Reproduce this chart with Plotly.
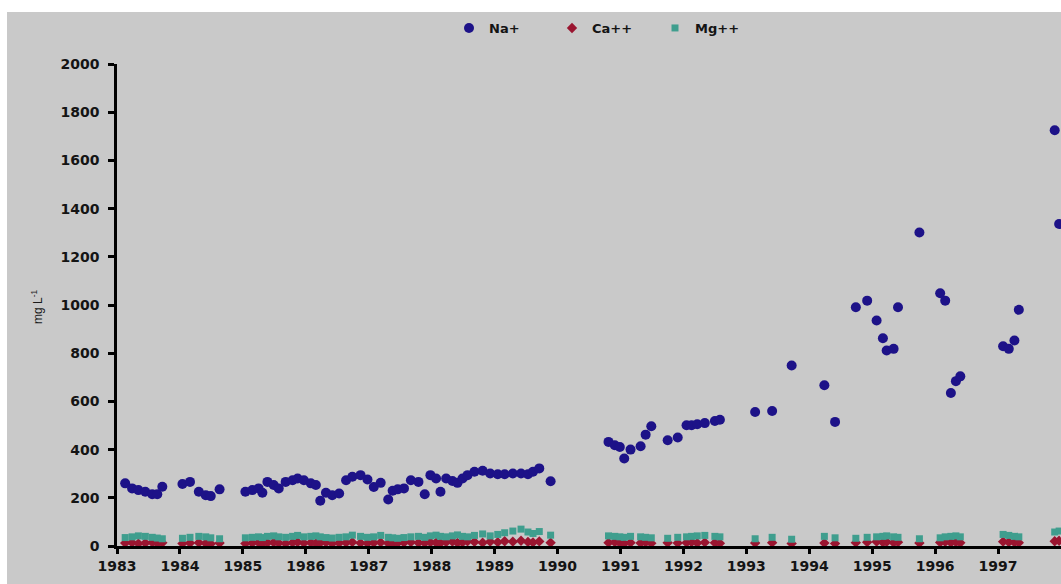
import plotly.graph_objects as go

# ---- data (decimal years, mg/L) ----
na_dates = [
    1983.13, 1983.24, 1983.34, 1983.45, 1983.56, 1983.64, 1983.72,
    1984.04, 1984.16, 1984.30, 1984.41, 1984.49, 1984.63,
    1985.04, 1985.15, 1985.25, 1985.31, 1985.39, 1985.49, 1985.57, 1985.68, 1985.79, 1985.87, 1985.97,
    1986.08, 1986.16, 1986.23, 1986.32, 1986.42, 1986.53, 1986.64, 1986.74, 1986.87, 1986.98,
    1987.08, 1987.19, 1987.31, 1987.38, 1987.46, 1987.56, 1987.67, 1987.79, 1987.89, 1987.98,
    1988.07, 1988.14, 1988.23, 1988.33, 1988.41, 1988.49, 1988.57, 1988.68, 1988.81, 1988.93,
    1989.05, 1989.16, 1989.29, 1989.42, 1989.53, 1989.61, 1989.71, 1989.89,
    1990.81, 1990.91, 1990.99, 1991.06, 1991.16, 1991.32, 1991.40, 1991.49, 1991.75, 1991.91,
    1992.05, 1992.13, 1992.22, 1992.34, 1992.50, 1992.58,
    1993.14, 1993.41, 1993.72, 1994.24, 1994.41, 1994.74, 1994.92,
    1995.07, 1995.17, 1995.23, 1995.34, 1995.41, 1995.75,
    1996.08, 1996.16, 1996.25, 1996.33, 1996.40,
    1997.08, 1997.17, 1997.26, 1997.33, 1997.90, 1997.97,
]
na_values = [
    260, 239, 232, 225, 215, 215, 246,
    257, 266, 225, 211, 207, 235,
    225, 232, 239, 221, 266, 253, 239, 266, 273, 280, 273,
    260, 253, 188, 221, 211, 218, 273, 287, 294, 276,
    245, 262, 193, 229, 235, 239, 273, 266, 215, 294,
    280, 225, 280, 270, 262, 280, 294, 308, 312, 301,
    298, 298, 301, 301, 298, 308, 322, 269,
    432, 418, 411, 363, 400, 414, 462, 497, 439, 450,
    501, 501, 505, 510, 519, 524,
    556, 560, 749, 667, 515, 991, 1018,
    936, 862, 811, 818, 991, 1301,
    1049, 1018, 635, 684, 704,
    829, 818, 853, 980, 1725, 1336,
]
ca_dates = na_dates
ca_values = [
    12, 14, 10, 12, 15, 11, 13,
    10, 12, 14, 11, 9, 12,
    10, 12, 14, 11, 13, 15, 12, 10, 14, 16, 12,
    14, 11, 13, 15, 10, 12, 14, 16, 12, 11,
    13, 15, 11, 10, 12, 14, 16, 13, 12, 15,
    14, 12, 16, 18, 13, 15, 20, 17, 14, 18,
    16, 20, 18, 22, 17, 15, 19, 14,
    14, 16, 12, 10, 14, 12, 15, 11, 13, 12,
    14, 16, 12, 15, 13, 11,
    12, 14, 10, 12, 10, 14, 16,
    18, 15, 17, 14, 16, 12,
    15, 17, 14, 16, 13,
    18, 16, 15, 14, 20, 22,
]
mg_dates = na_dates
mg_values = [
    35, 38, 42, 40, 36, 33, 30,
    32, 36, 40, 38, 34, 30,
    34, 36, 38, 35, 40, 42, 38, 36, 40, 44, 38,
    40, 42, 38, 35, 33, 36, 38, 45, 40, 36,
    38, 44, 36, 34, 32, 35, 38, 40, 36, 42,
    45, 40, 38, 42, 46, 40, 38, 44, 50, 42,
    48, 55, 62, 70, 58, 52, 60, 45,
    42, 40, 38, 36, 40, 38, 36, 34, 32, 36,
    38, 40, 42, 44, 40, 38,
    30, 36, 28, 40, 34, 32, 36,
    38, 40, 42, 38, 36, 30,
    34, 38, 40, 42, 38,
    48, 44, 40, 38, 58, 62,
]
year_ticks = list(range(1983, 1998))
y_ticks = list(range(0, 2001, 200))

W, H = 1061, 584
ML, MR, MT, MB = 117, 0, 64, 38
PW, PH = W - ML - MR, H - MT - MB

def px_x(p):
    return (p - ML) / PW

def px_y(p):
    return (H - MB - p) / PH

BG = "#c9c9c9"
font_bold = dict(family="DejaVu Sans", size=14, color="#141414", weight="bold")

fig = go.Figure()
fig.add_trace(go.Scatter(
    x=na_dates, y=na_values, mode="markers", name="Na+",
    marker=dict(symbol="circle", size=10, color="#1d1288"), cliponaxis=False))
fig.add_trace(go.Scatter(
    x=ca_dates, y=ca_values, mode="markers", name="Ca++",
    marker=dict(symbol="diamond", size=8, color="#9a1530"), cliponaxis=False))
fig.add_trace(go.Scatter(
    x=mg_dates, y=mg_values, mode="markers", name="Mg++",
    marker=dict(symbol="square", size=7, color="#3f9e8e"), cliponaxis=False))

fig.update_layout(
    width=W, height=H,
    margin=dict(l=ML, r=MR, t=MT, b=MB),
    paper_bgcolor=BG, plot_bgcolor=BG,
    showlegend=True,
    legend=dict(orientation="h", x=px_x(449), y=px_y(28), xanchor="left", yanchor="middle",
                font=dict(family="DejaVu Sans", size=13, color="#141414", weight="bold"),
                bgcolor="rgba(0,0,0,0)", itemwidth=30, itemsizing="trace",
                entrywidth=58, entrywidthmode="pixels"),
    xaxis=dict(range=[1983, 1998], tickvals=year_ticks, ticktext=[str(y) for y in year_ticks],
               showgrid=False, zeroline=False, showline=True, linecolor="black", linewidth=2.5,
               ticks="outside", ticklen=5, tickwidth=2.5, tickcolor="black",
               tickfont=font_bold),
    yaxis=dict(range=[0, 2000], tickvals=y_ticks, showgrid=False, zeroline=False,
               showline=True, linecolor="black", linewidth=2.5,
               ticks="outside", ticklen=6, tickwidth=2.5, tickcolor="black",
               tickfont=font_bold, ticklabelstandoff=6),
    shapes=[
        dict(type="rect", xref="paper", yref="paper", x0=px_x(0), x1=px_x(W), y0=px_y(12), y1=px_y(0),
             fillcolor="white", line=dict(width=0), layer="below"),
        dict(type="rect", xref="paper", yref="paper", x0=px_x(0), x1=px_x(7), y0=px_y(H), y1=px_y(0),
             fillcolor="white", line=dict(width=0), layer="below"),
    ],
    annotations=[
        dict(text="mg L<sup>-1</sup>", xref="paper", yref="paper", x=px_x(37), y=px_y(307),
             textangle=-90, showarrow=False, xanchor="center", yanchor="middle",
             font=dict(family="Liberation Sans", size=12, color="#1a1a1a")),
    ],
)

fig.write_html(
    "out.html",
    config={"displayModeBar": False},
    post_script="document.body.style.margin='0';document.body.style.overflow='hidden';",
)
